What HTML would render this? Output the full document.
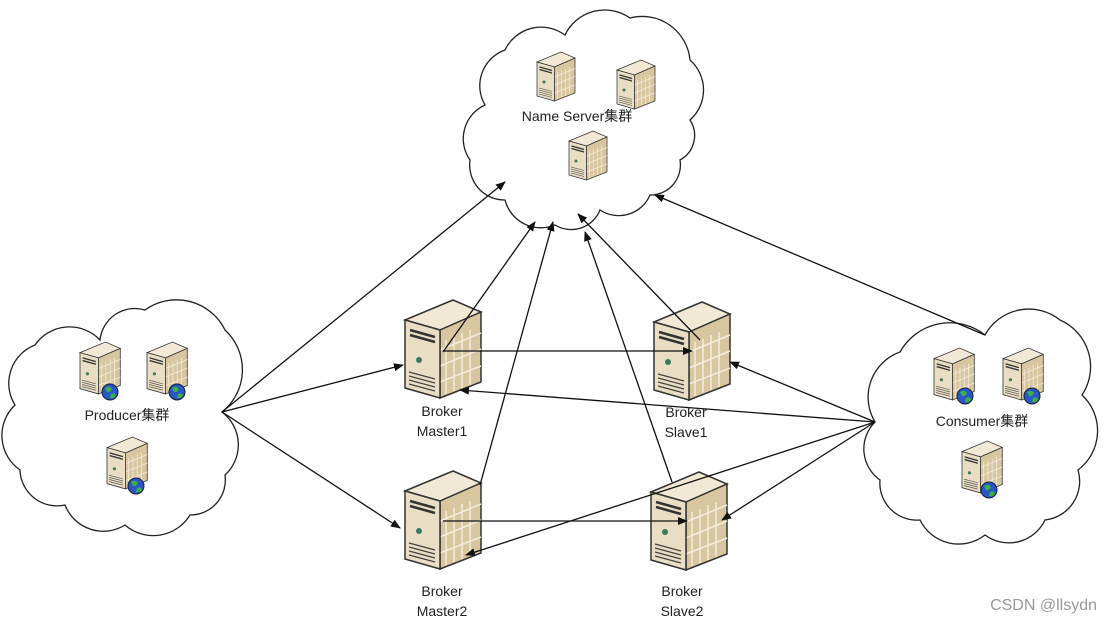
<!DOCTYPE html>
<html><head><meta charset="utf-8"><style>
html,body{margin:0;padding:0;background:#fff;width:1111px;height:625px;overflow:hidden}
text{font-family:"Liberation Sans","Noto Sans CJK SC",sans-serif;fill:#222}
</style></head><body>
<svg width="1111" height="625" viewBox="0 0 1111 625" xmlns="http://www.w3.org/2000/svg">
<defs>
<marker id="ar" markerWidth="10" markerHeight="8" refX="9" refY="4" orient="auto" markerUnits="userSpaceOnUse">
<path d="M0,0 L10,4 L0,8 z" fill="#111"/></marker>
<g id="srv">
<path d="M0,20 L48,0 L76,12 L35,30 Z" fill="#f1e9d6" stroke="#333" stroke-width="1.5"/>
<path d="M35,30 L76,12 L76,82 L35,98 Z" fill="#d8c6a0" stroke="#333" stroke-width="1.5"/>
<path d="M41,40 L41,94 M49,37 L49,91 M57,33 L57,88 M65,30 L65,85 M35,50 L76,33 M35,66 L76,49 M35,82 L76,66" stroke="#f4ecdc" stroke-width="1.5" fill="none"/>
<path d="M0,20 L35,30 L35,98 L0,88 Z" fill="#e9dec4" stroke="#333" stroke-width="1.5"/>
<path d="M5,30 L30,37 M5,35 L30,42" stroke="#333" stroke-width="2.5"/>
<circle cx="14" cy="60" r="3" fill="#3a7a5a"/>
<path d="M4,72 L30,79 M4,76 L30,83 M4,80 L30,87 M4,84 L30,91" stroke="#444" stroke-width="1.2"/>
</g>
<g id="glob"><circle r="8" fill="#2a56c8" stroke="#123" stroke-width="1"/><path d="M-5,-4 Q-1,-7 2,-3 Q0,1 -3,0 Z M1,2 Q5,0 6,4 Q3,7 0,6 Z" fill="#3cb043"/></g>
</defs>

<!-- clouds -->
<path fill="#fff" stroke="#222" stroke-width="1.3" d="M485,105 A38,38 0 0 1 505,50 A40,40 0 0 1 565,35 A44,44 0 0 1 630,18 A48,48 0 0 1 690,60 A40,40 0 0 1 690,120 A28,28 0 0 1 680,160 A30,30 0 0 1 650,195 A34,34 0 0 1 600,210 A31,31 0 0 1 555,225 A37,37 0 0 1 505,200 A35,35 0 0 1 470,160 A37,37 0 0 1 485,105 Z"/>
<path fill="#fff" stroke="#222" stroke-width="1.3" d="M35,345 A42,42 0 0 1 100,340 A35,35 0 0 1 145,310 A54,54 0 0 1 225,330 A54,54 0 0 1 222,412 A41,41 0 0 1 225,475 A35,35 0 0 1 190,515 A43,43 0 0 1 125,525 A41,41 0 0 1 65,505 A37,37 0 0 1 20,470 A42,42 0 0 1 15,405 A41,41 0 0 1 35,345 Z"/>
<path fill="#fff" stroke="#222" stroke-width="1.3" d="M900,352 A57,57 0 0 1 985,335 A50,50 0 0 1 1060,320 A51,51 0 0 1 1082,395 A49,49 0 0 1 1078,470 A39,39 0 0 1 1045,520 A40,40 0 0 1 985,535 A43,43 0 0 1 920,520 A37,37 0 0 1 880,480 A38,38 0 0 1 875,422 A48,48 0 0 1 900,352 Z"/>

<!-- servers -->
<use href="#srv" transform="translate(405,300)"/>
<use href="#srv" transform="translate(654,302)"/>
<use href="#srv" transform="translate(405,471)"/>
<use href="#srv" transform="translate(651,472)"/>

<!-- connectors -->
<g stroke="#111" stroke-width="1.3" fill="none" marker-end="url(#ar)">
<line x1="222" y1="412" x2="505" y2="182"/>
<line x1="222" y1="412" x2="403" y2="365"/>
<line x1="222" y1="412" x2="400" y2="528"/>
<line x1="443" y1="352" x2="535" y2="222"/>
<line x1="480" y1="485" x2="553" y2="222"/>
<line x1="700" y1="340" x2="578" y2="214"/>
<line x1="672" y1="482" x2="585" y2="232"/>
<line x1="985" y1="335" x2="655" y2="195"/>
<line x1="875" y1="422" x2="730" y2="362"/>
<line x1="875" y1="422" x2="460" y2="390"/>
<line x1="875" y1="422" x2="722" y2="520"/>
<line x1="875" y1="422" x2="466" y2="555"/>
<line x1="443" y1="351" x2="692" y2="351"/>
<line x1="443" y1="521" x2="687" y2="521"/>
</g>

<use href="#srv" transform="translate(537,52) scale(0.5)"/>
<use href="#srv" transform="translate(617,60) scale(0.5)"/>
<use href="#srv" transform="translate(569,131) scale(0.5)"/>

<use href="#srv" transform="translate(80,342) scale(0.53)"/>
<use href="#srv" transform="translate(147,342) scale(0.53)"/>
<use href="#srv" transform="translate(107,437) scale(0.53)"/>
<use href="#glob" transform="translate(110,392)"/>
<use href="#glob" transform="translate(177,392)"/>
<use href="#glob" transform="translate(136,486)"/>

<use href="#srv" transform="translate(934,348) scale(0.53)"/>
<use href="#srv" transform="translate(1003,348) scale(0.53)"/>
<use href="#srv" transform="translate(962,441) scale(0.53)"/>
<use href="#glob" transform="translate(965,396)"/>
<use href="#glob" transform="translate(1032,396)"/>
<use href="#glob" transform="translate(989,490)"/>

<!-- labels -->
<text x="577" y="121" font-size="14" text-anchor="middle">Name Server集群</text>
<text x="127" y="420" font-size="14" text-anchor="middle">Producer集群</text>
<text x="982" y="426" font-size="14" text-anchor="middle">Consumer集群</text>
<g font-size="14" text-anchor="middle">
<text x="442" y="416">Broker</text><text x="442" y="436">Master1</text>
<text x="686" y="417">Broker</text><text x="686" y="437">Slave1</text>
<text x="442" y="596">Broker</text><text x="442" y="616">Master2</text>
<text x="682" y="596">Broker</text><text x="682" y="616">Slave2</text>
</g>
<text x="1097" y="610" font-size="16" text-anchor="end" style="fill:#999">CSDN @llsydn</text>
</svg>
</body></html>
